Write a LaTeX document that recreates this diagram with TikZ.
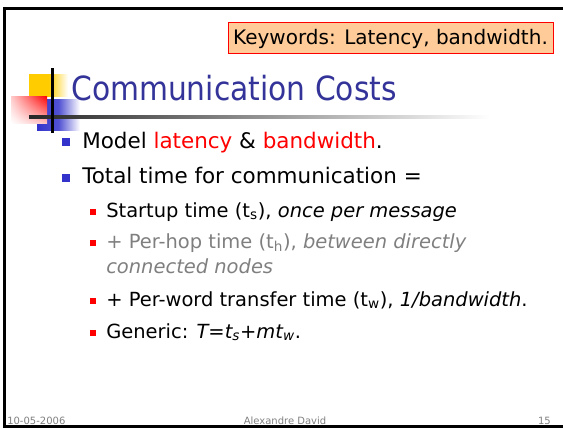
\documentclass[tikz,border=0pt]{standalone}
\usepackage{fontspec}
\setmainfont{DejaVu Sans}
\newfontfamily\kwfont{DejaVu Sans}
\usetikzlibrary{shadings}
\definecolor{titleblue}{HTML}{333399}
\definecolor{bulblue}{HTML}{3333CC}
\definecolor{kwfill}{HTML}{FFCC99}
\definecolor{logoyellow}{HTML}{FFCC00}
\definecolor{hopgray}{HTML}{7F7F7F}
\definecolor{footgray}{HTML}{808080}
\tikzset{
  lone/.style={anchor=base west, inner sep=0pt, font=\fontsize{16.1}{19}\selectfont},
  ltwo/.style={anchor=base west, inner sep=0pt, font=\fontsize{14.6}{17}\selectfont},
  bone/.style={fill=bulblue, inner sep=0pt, minimum size=6pt},
  btwo/.style={fill=red, inner sep=0pt, minimum size=5pt},
  foot/.style={anchor=base, inner sep=0pt, text=footgray, font=\fontsize{7.5}{9}\selectfont}
}
\begin{document}
\begin{tikzpicture}[x=0.75pt,y=-0.75pt]
\useasboundingbox (0,0) rectangle (563,428);
% frame
\fill[black] (3,7) rectangle (563,10);
\fill[black] (3,7) rectangle (6,428);
\fill[black] (3,425) rectangle (563,427.5);
% keyword box
\node[draw=red, fill=kwfill, line width=0.75pt, inner sep=0pt, minimum width=325*0.75pt, minimum height=31*0.75pt,
      font=\kwfont\fontsize{15}{18}\selectfont] (kw) at (390.5,38.5) {Keywords: Latency, bandwidth.};
% logo
\shade[left color=logoyellow, right color=white, middle color=logoyellow] (29,74) rectangle (68,96);
\shade[left color=bulblue, right color=white, middle color=bulblue!85] (37,99) rectangle (80,130);
\shade[upper left=red!20, upper right=red, lower left=white, lower right=red!25] (11,96) rectangle (47,123);
\shade[left color=black!85, right color=white] (29,115.5) rectangle (490,118.5);
\fill[black] (51,68) rectangle (53.5,133);
% title
\node[anchor=base west, inner sep=0pt, text=titleblue, font=\fontsize{22.3}{26}\selectfont] (title) at (71,100) {\scalebox{1}[1.12]{Communication Costs}};
% bullets level 1
\node[lone] (t1) at (82,148) {Model \textcolor{red}{latency} \& \textcolor{red}{bandwidth}.};
\node[bone] (b1) at (66,142) {};
\node[lone] (t2) at (82,183) {Total time for communication =};
\node[bone] (b2) at (66,177.5) {};
% level 2
\node[ltwo] (t3) at (106,217) {Startup time (t\textsubscript{s}), \textit{once per message}};
\node[btwo] (b3) at (93,212) {};
\node[ltwo, text=hopgray] (t4) at (106,248) {+ Per-hop time (t\textsubscript{h}), \textit{between directly}};
\node[btwo] (b4) at (93,243) {};
\node[ltwo, text=hopgray] (t4b) at (106,273) {\textit{connected nodes}};
\node[ltwo] (t5) at (106,306) {+ Per-word transfer time (t\textsubscript{w}), \textit{1/bandwidth}.};
\node[btwo] (b5) at (93,301) {};
\node[ltwo] (t6) at (106,338) {Generic: \textit{T=t\textsubscript{s}+mt\textsubscript{w}}.};
\node[btwo] (b6) at (93,333) {};
% footer
\node[foot, anchor=base west] (f1) at (7,424) {10-05-2006};
\node[foot] (f2) at (285,424) {Alexandre David};
\node[foot, anchor=base east] (f3) at (551,424) {15};
\end{tikzpicture}
\end{document}
